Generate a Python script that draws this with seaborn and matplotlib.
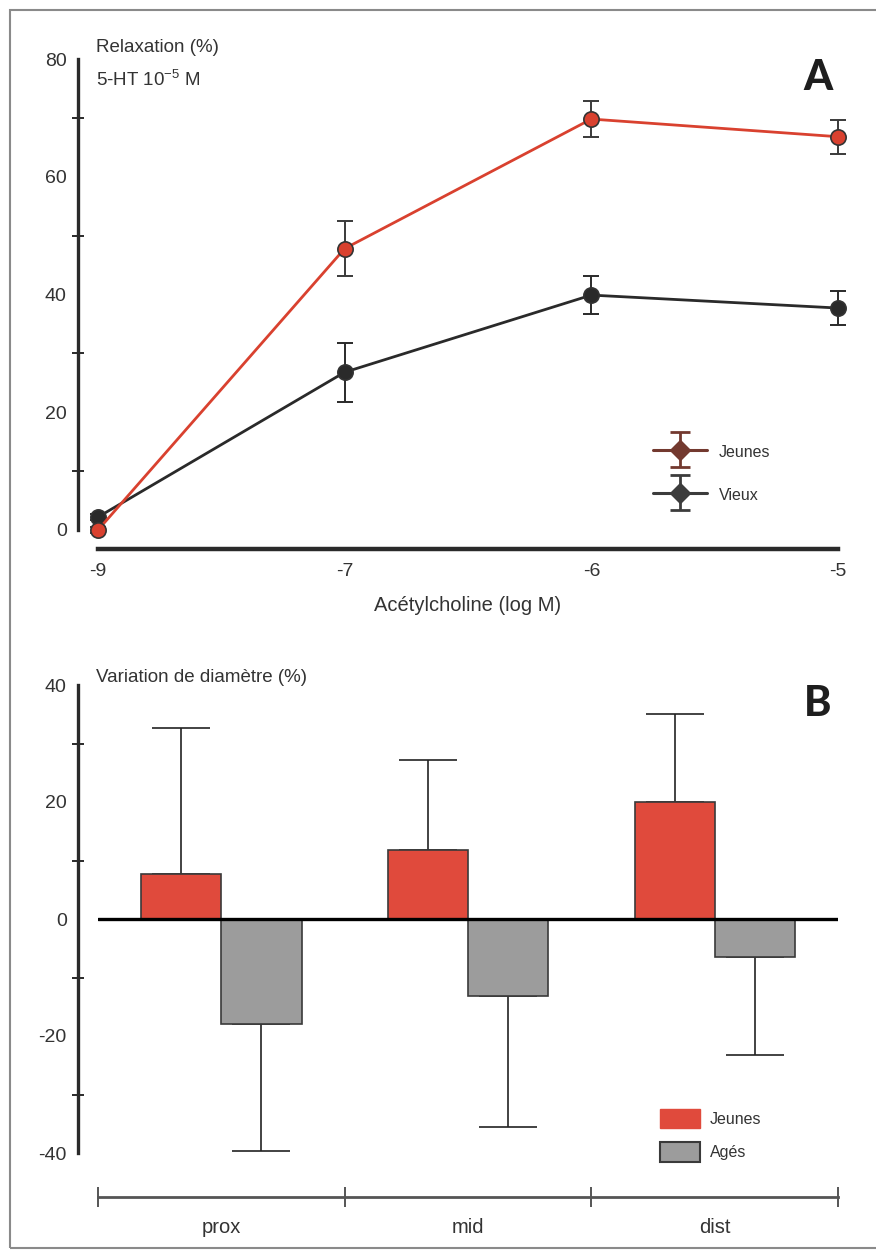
import matplotlib
matplotlib.use("Agg")
import matplotlib.pyplot as plt
import numpy as np
import pandas as pd
import seaborn as sns
from matplotlib.container import ErrorbarContainer
from matplotlib.legend_handler import HandlerErrorbar
from matplotlib.patches import Patch, Rectangle

# --- Panel A : relaxation vs acetylcholine ---
conc_labels = ["-9", "-7", "-6", "-5"]
jeunes_relax = [0.0, 47.8, 69.8, 66.8]
jeunes_relax_err = [0.5, 4.7, 3.0, 2.9]
vieux_relax = [2.2, 26.8, 39.9, 37.7]
vieux_relax_err = [0.5, 5.0, 3.2, 2.9]

# --- Panel B : variation de diametre ---
sites = ["prox", "mid", "dist"]
jeunes_diam = [7.7, 11.8, 20.0]
jeunes_diam_err = [24.9, 15.4, 15.0]
ages_diam = [-17.9, -13.2, -6.5]
ages_diam_err = [21.8, 22.3, 16.7]

RED = "#d9412f"
RED_BAR = "#e04a3c"
GREY_BAR = "#9c9c9c"
DARK = "#2a2a2a"
TXT = "#333333"

sns.set_theme(style="white")
plt.rcParams["font.family"] = ["Liberation Sans", "DejaVu Sans"]
plt.rcParams["mathtext.fontset"] = "custom"
plt.rcParams["mathtext.rm"] = "Liberation Sans"
plt.rcParams["axes.unicode_minus"] = False

W, H = 876, 1253
fig = plt.figure(figsize=(W / 100, H / 100), dpi=100)


def fx(px):
    return px / W


def fy(py):
    return 1 - py / H


# ---------------- Panel A ----------------
axA = fig.add_axes([fx(98), fy(530), fx(740), 471 / H])
xpos = np.arange(len(conc_labels))
dfA = pd.DataFrame({
    "x": np.concatenate([xpos, xpos]),
    "y": jeunes_relax + vieux_relax,
    "grp": ["Jeunes"] * 4 + ["Vieux"] * 4,
})
axA.errorbar(xpos, jeunes_relax, yerr=jeunes_relax_err, fmt="none", ecolor="#3a3a3a",
             elinewidth=1.4, capsize=6, capthick=1.4, clip_on=False, zorder=2)
axA.errorbar(xpos, vieux_relax, yerr=vieux_relax_err, fmt="none", ecolor="#2a2a2a",
             elinewidth=1.4, capsize=6, capthick=1.4, clip_on=False, zorder=2)
sns.lineplot(data=dfA, x="x", y="y", hue="grp", palette={"Jeunes": RED, "Vieux": DARK},
             hue_order=["Vieux", "Jeunes"], marker="o", markersize=11, linewidth=2,
             markeredgecolor="#333333", markeredgewidth=1.2, legend=False, ax=axA,
             clip_on=False, zorder=3)

axA.set_xlim(0, 3)
axA.set_ylim(0, 80)
axA.set_xticks(xpos, conc_labels)
axA.set_yticks([0, 20, 40, 60, 80])
axA.set_yticks([10, 30, 50, 70], minor=True)
axA.set_xlabel("Acétylcholine (log M)", fontsize=14.5, color=TXT, labelpad=12)
axA.set_ylabel("")
for s in ["top", "right"]:
    axA.spines[s].set_visible(False)
axA.spines["left"].set_position(("outward", 14.5))
axA.spines["bottom"].set_position(("outward", 13.5))
axA.spines["left"].set_linewidth(2.4)
axA.spines["bottom"].set_linewidth(3.2)
axA.spines["left"].set_color(DARK)
axA.spines["bottom"].set_color(DARK)
axA.tick_params(axis="y", which="major", direction="inout", length=12, width=1.6,
                colors=DARK, labelcolor=TXT, labelsize=14, pad=2)
axA.tick_params(axis="y", which="minor", direction="inout", length=9, width=1.4,
                colors=DARK, left=True)
axA.tick_params(axis="x", which="major", direction="inout", length=14, width=1.6,
                colors=DARK, labelcolor=TXT, labelsize=14, pad=3)

fig.text(fx(96), fy(48), "Relaxation (%)", fontsize=13.5, color=TXT, va="center", ha="left")
fig.text(fx(96), fy(80), "5-HT 10$^{\\mathregular{-5}}$ M", fontsize=13.5, color=TXT,
         va="center", ha="left")
fig.text(fx(818), fy(78), "A", fontsize=30, fontweight="black", family=["Lato", "DejaVu Sans"],
         color="#1e1e1e", ha="center", va="center")

pj = axA.errorbar([np.nan], [np.nan], yerr=[1], fmt="-D", color="#73392f", ms=10,
                  lw=2.2, elinewidth=2, capsize=7, capthick=2, label="Jeunes")
pv = axA.errorbar([np.nan], [np.nan], yerr=[1], fmt="-D", color="#3c3c3c", ms=10,
                  lw=2.2, elinewidth=2, capsize=7, capthick=2, label="Vieux")
legA = axA.legend(handles=[pj, pv], labels=["Jeunes", "Vieux"], frameon=False,
                  loc="upper left", bbox_to_anchor=(fx(653), fy(442)),
                  bbox_transform=fig.transFigure, borderpad=0, borderaxespad=0,
                  handlelength=3.4, handleheight=1.6, handletextpad=0.7, labelspacing=1.4,
                  fontsize=11.5, labelcolor=TXT,
                  handler_map={ErrorbarContainer: HandlerErrorbar(xerr_size=0.3, yerr_size=1.1)})

# ---------------- Panel B ----------------
axB = fig.add_axes([fx(98), fy(1153), fx(740), 468 / H])
dfB = pd.DataFrame({
    "site": sites * 2,
    "val": jeunes_diam + ages_diam,
    "grp": ["Jeunes"] * 3 + ["Agés"] * 3,
})
sns.barplot(data=dfB, x="site", y="val", hue="grp", order=sites, hue_order=["Jeunes", "Agés"],
            palette={"Jeunes": RED_BAR, "Agés": GREY_BAR}, width=0.65, errorbar=None,
            saturation=1, edgecolor="#3a3a3a", linewidth=1.2, legend=False, ax=axB, zorder=2)

bars = axB.patches
errs = jeunes_diam_err + ages_diam_err
vals = jeunes_diam + ages_diam
for b, v, e in zip(bars[:6], vals, errs):
    cx = b.get_x() + b.get_width() / 2
    if v >= 0:
        axB.errorbar(cx, v, yerr=[[0], [e]], fmt="none", ecolor="#222222", elinewidth=1.2,
                     capsize=21, capthick=1.2, zorder=1)
    else:
        axB.errorbar(cx, v, yerr=[[e], [0]], fmt="none", ecolor="#222222", elinewidth=1.2,
                     capsize=21, capthick=1.2, zorder=1)

axB.axhline(0, color="black", lw=2.4, zorder=3)
axB.set_xlim(-0.5, 2.5)
axB.set_ylim(-40, 40)
axB.set_yticks([-40, -20, 0, 20, 40])
axB.set_yticks([-30, -10, 10, 30], minor=True)
axB.set_xticks([0, 1, 2], sites)
axB.set_xticks([-0.5, 0.5, 1.5, 2.5], minor=True)
axB.set_xlabel("")
axB.set_ylabel("")
for s in ["top", "right"]:
    axB.spines[s].set_visible(False)
axB.spines["left"].set_position(("outward", 14.5))
axB.spines["bottom"].set_position(("outward", 32))
axB.spines["left"].set_linewidth(2.4)
axB.spines["bottom"].set_linewidth(2.0)
axB.spines["left"].set_color(DARK)
axB.spines["bottom"].set_color("#555555")
axB.tick_params(axis="y", which="major", direction="inout", length=12, width=1.6,
                colors=DARK, labelcolor=TXT, labelsize=14, pad=2)
axB.tick_params(axis="y", which="minor", direction="inout", length=9, width=1.4,
                colors=DARK, left=True)
axB.tick_params(axis="x", which="major", length=0, labelcolor=TXT, labelsize=14.5, pad=15)
axB.tick_params(axis="x", which="minor", direction="inout", length=14, width=1.4,
                colors="#555555", bottom=True)

fig.text(fx(96), fy(677), "Variation de diamètre (%)", fontsize=13.5, color=TXT,
         va="center", ha="left")
fig.text(fx(818), fy(704), "B", fontsize=30, fontweight="black", family=["Lato", "DejaVu Sans"],
         color="#1e1e1e", ha="center", va="center")

legB = axB.legend(handles=[Patch(facecolor=RED_BAR, edgecolor=RED_BAR),
                           Patch(facecolor=GREY_BAR, edgecolor="#3a3a3a", lw=1.5)],
                  labels=["Jeunes", "Agés"], frameon=False, loc="upper left",
                  bbox_to_anchor=(fx(660), fy(1109)), bbox_transform=fig.transFigure,
                  borderpad=0, borderaxespad=0, handlelength=2.5, handleheight=1.5,
                  handletextpad=0.6, labelspacing=0.85, fontsize=11.5, labelcolor=TXT)

fig.add_artist(Rectangle((fx(10), 0.004), 1.2, fy(10) - 0.004, transform=fig.transFigure,
                         fill=False, edgecolor="#8a8a8a", lw=1.5))

fig.savefig("out.png", dpi=100)
